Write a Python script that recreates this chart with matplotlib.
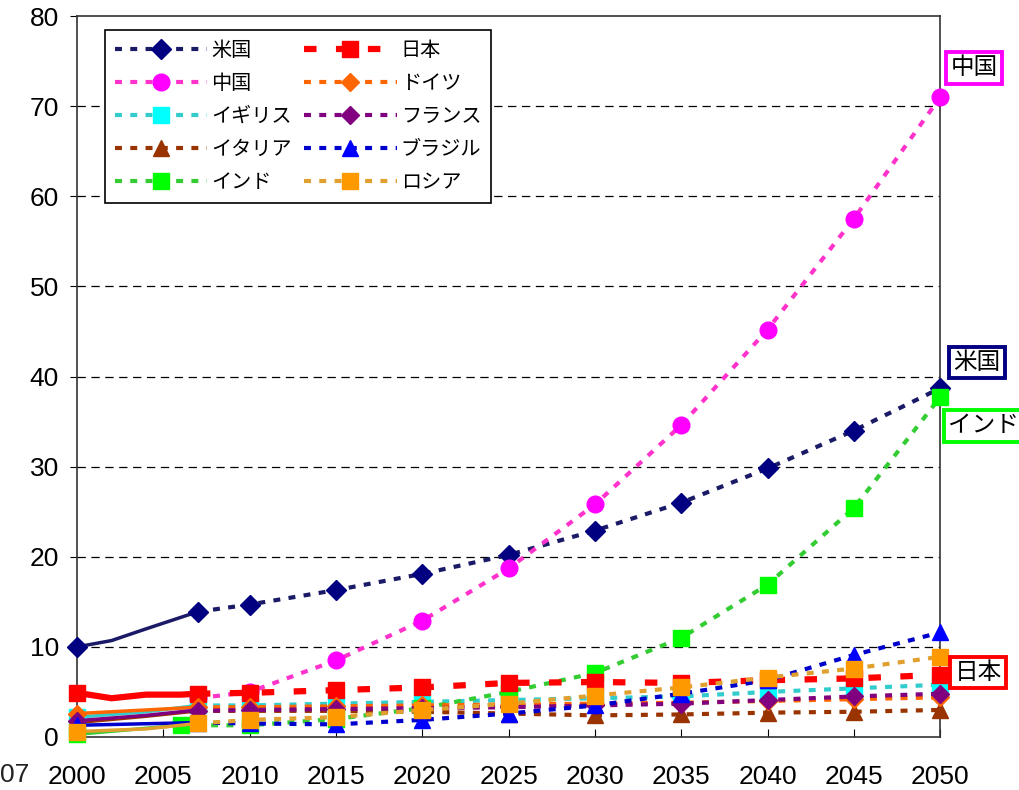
import numpy as np
import matplotlib.pyplot as plt

plt.rcParams['font.family'] = ['Liberation Sans', 'Noto Sans CJK JP', 'DejaVu Sans']
plt.rcParams['lines.scale_dashes'] = False

# 予測の年（2007年以降）
proj_years = [2007, 2010, 2015, 2020, 2025, 2030, 2035, 2040, 2045, 2050]

# 実績（2000-2007）
us_hist_years = [2000, 2002, 2004, 2007]
us_hist = [10.0, 10.7, 12.0, 13.9]
jp_hist_years = [2000, 2002, 2004, 2006, 2007]
jp_hist = [4.9, 4.3, 4.7, 4.7, 4.8]
de_hist_years = [2000, 2004, 2007]
de_hist = [2.6, 3.0, 3.3]
uk_hist_years = [2000, 2004, 2007]
uk_hist = [2.2, 2.8, 3.5]
fr_hist_years = [2000, 2004, 2007]
fr_hist = [1.8, 2.4, 3.0]
it_hist_years = [2000, 2004, 2007]
it_hist = [1.6, 2.3, 2.9]
br_hist_years = [2000, 2007]
br_hist = [1.3, 1.6]
ru_hist_years = [2000, 2004, 2007]
ru_hist = [0.6, 0.9, 1.5]
in_hist_years = [2000, 2006]
in_hist = [0.3, 1.3]

# 予測値
us_proj = [13.9, 14.7, 16.3, 18.1, 20.2, 22.9, 26.0, 29.8, 34.0, 38.7]
cn_proj = [4.3, 5.0, 8.5, 12.9, 18.7, 25.8, 34.6, 45.2, 57.5, 71.0]
uk_proj = [3.5, 3.5, 3.7, 3.9, 4.1, 4.3, 4.5, 5.0, 5.4, 5.8]
it_proj = [2.9, 2.9, 2.9, 2.8, 2.6, 2.4, 2.5, 2.7, 2.8, 3.0]
in_proj_years = [2006, 2010, 2015, 2020, 2025, 2030, 2035, 2040, 2045, 2050]
in_proj = [1.3, 1.3, 2.0, 3.2, 5.0, 7.1, 11.0, 16.9, 25.4, 37.7]
jp_proj = [4.8, 4.9, 5.2, 5.5, 6.0, 6.1, 6.0, 6.3, 6.5, 6.9]
de_proj = [3.3, 3.3, 3.4, 3.5, 3.6, 3.7, 3.8, 4.0, 4.2, 4.4]
fr_proj = [2.9, 3.0, 3.1, 3.2, 3.3, 3.5, 3.7, 4.1, 4.5, 4.8]
br_proj = [1.6, 1.5, 1.4, 1.9, 2.6, 3.5, 4.8, 6.3, 9.1, 11.6]
ru_proj = [1.5, 1.9, 2.2, 3.0, 3.7, 4.6, 5.5, 6.6, 7.6, 8.9]

series = [
    # label, hist years, hist, proj years, proj, line colour, marker colour, marker, size
    ('米国', us_hist_years, us_hist, proj_years, us_proj, '#1a1a66', '#000080', 'D', 10),
    ('中国', None, None, proj_years, cn_proj, '#ff33cc', '#ff00ff', 'o', 12),
    ('イギリス', uk_hist_years, uk_hist, proj_years, uk_proj, '#33cccc', '#00ffff', 's', 11),
    ('イタリア', it_hist_years, it_hist, proj_years, it_proj, '#993300', '#993300', '^', 11),
    ('インド', in_hist_years, in_hist, in_proj_years, in_proj, '#33cc33', '#00ff00', 's', 11),
    ('日本', jp_hist_years, jp_hist, proj_years, jp_proj, '#ff0000', '#ff0000', 's', 11),
    ('ドイツ', de_hist_years, de_hist, proj_years, de_proj, '#ff6600', '#ff6600', 'D', 9),
    ('フランス', fr_hist_years, fr_hist, proj_years, fr_proj, '#800080', '#800080', 'D', 9),
    ('ブラジル', br_hist_years, br_hist, proj_years, br_proj, '#0000cc', '#0000ff', '^', 11),
    ('ロシア', ru_hist_years, ru_hist, proj_years, ru_proj, '#e0a030', '#ff9900', 's', 11),
]

fig = plt.figure(figsize=(10.19, 7.90), dpi=100)
ax = fig.add_axes([0.0756, 0.0671, 0.847, 0.9126])

for label, hy, hv, py, pv, lc, mc, mk, ms in series:
    if label == '日本':
        lw, dash = 4.5, (9, 14)
    else:
        lw, dash = 3.0, (5, 6)
    if hy is not None:
        ax.plot(hy, hv, color=lc, lw=lw if label == '日本' else 2.5, marker=mk,
                markersize=ms, markerfacecolor=mc, markeredgecolor=mc,
                markevery=[0], clip_on=False, zorder=3)
    ax.plot(py, pv, color=lc, lw=lw, dashes=dash, marker=mk, markersize=ms,
            markerfacecolor=mc, markeredgecolor=mc, clip_on=False, zorder=3,
            label=label)

ax.set_xlim(2000, 2050)
ax.set_ylim(0, 80)
ax.set_xticks(np.arange(2000, 2051, 5))
ax.set_yticks(np.arange(0, 81, 10))
for y in range(10, 80, 10):
    ax.axhline(y, color='black', lw=0.9, dashes=(6, 4), zorder=1)

for sp in ax.spines.values():
    sp.set_color('#333333')
    sp.set_linewidth(1.2)
ax.tick_params(axis='x', direction='in', length=6, labelsize=19, pad=20)
ax.tick_params(axis='y', direction='out', length=5, labelsize=19, pad=8)

leg = ax.legend(ncol=2, loc='upper left', bbox_to_anchor=(0.032, 0.981),
                borderaxespad=0, fancybox=False, edgecolor='black', framealpha=1,
                prop={'family': ['Noto Sans CJK JP'], 'size': 14.5},
                handlelength=4.6, handletextpad=0.2, columnspacing=0.6,
                labelspacing=0.6, borderpad=0.5, numpoints=1)
leg.get_frame().set_linewidth(1.2)

boxes = [
    ('中国', 0.956, 0.914, '#ff00ff'),
    ('米国', 0.959, 0.541, '#000080'),
    ('インド', 0.965, 0.461, '#00ff00'),
    ('日本', 0.960, 0.149, '#ff0000'),
]
for txt, x, y, ec in boxes:
    fig.text(x, y, txt, ha='center', va='center', fontsize=17,
             family=['Noto Sans CJK JP'],
             bbox=dict(boxstyle='square,pad=0.18', facecolor='white',
                       edgecolor=ec, linewidth=2.8))

fig.text(0.0, 0.019, '07', fontsize=19, color='#222222', ha='left', va='center')

fig.savefig('out.png', dpi=100)
